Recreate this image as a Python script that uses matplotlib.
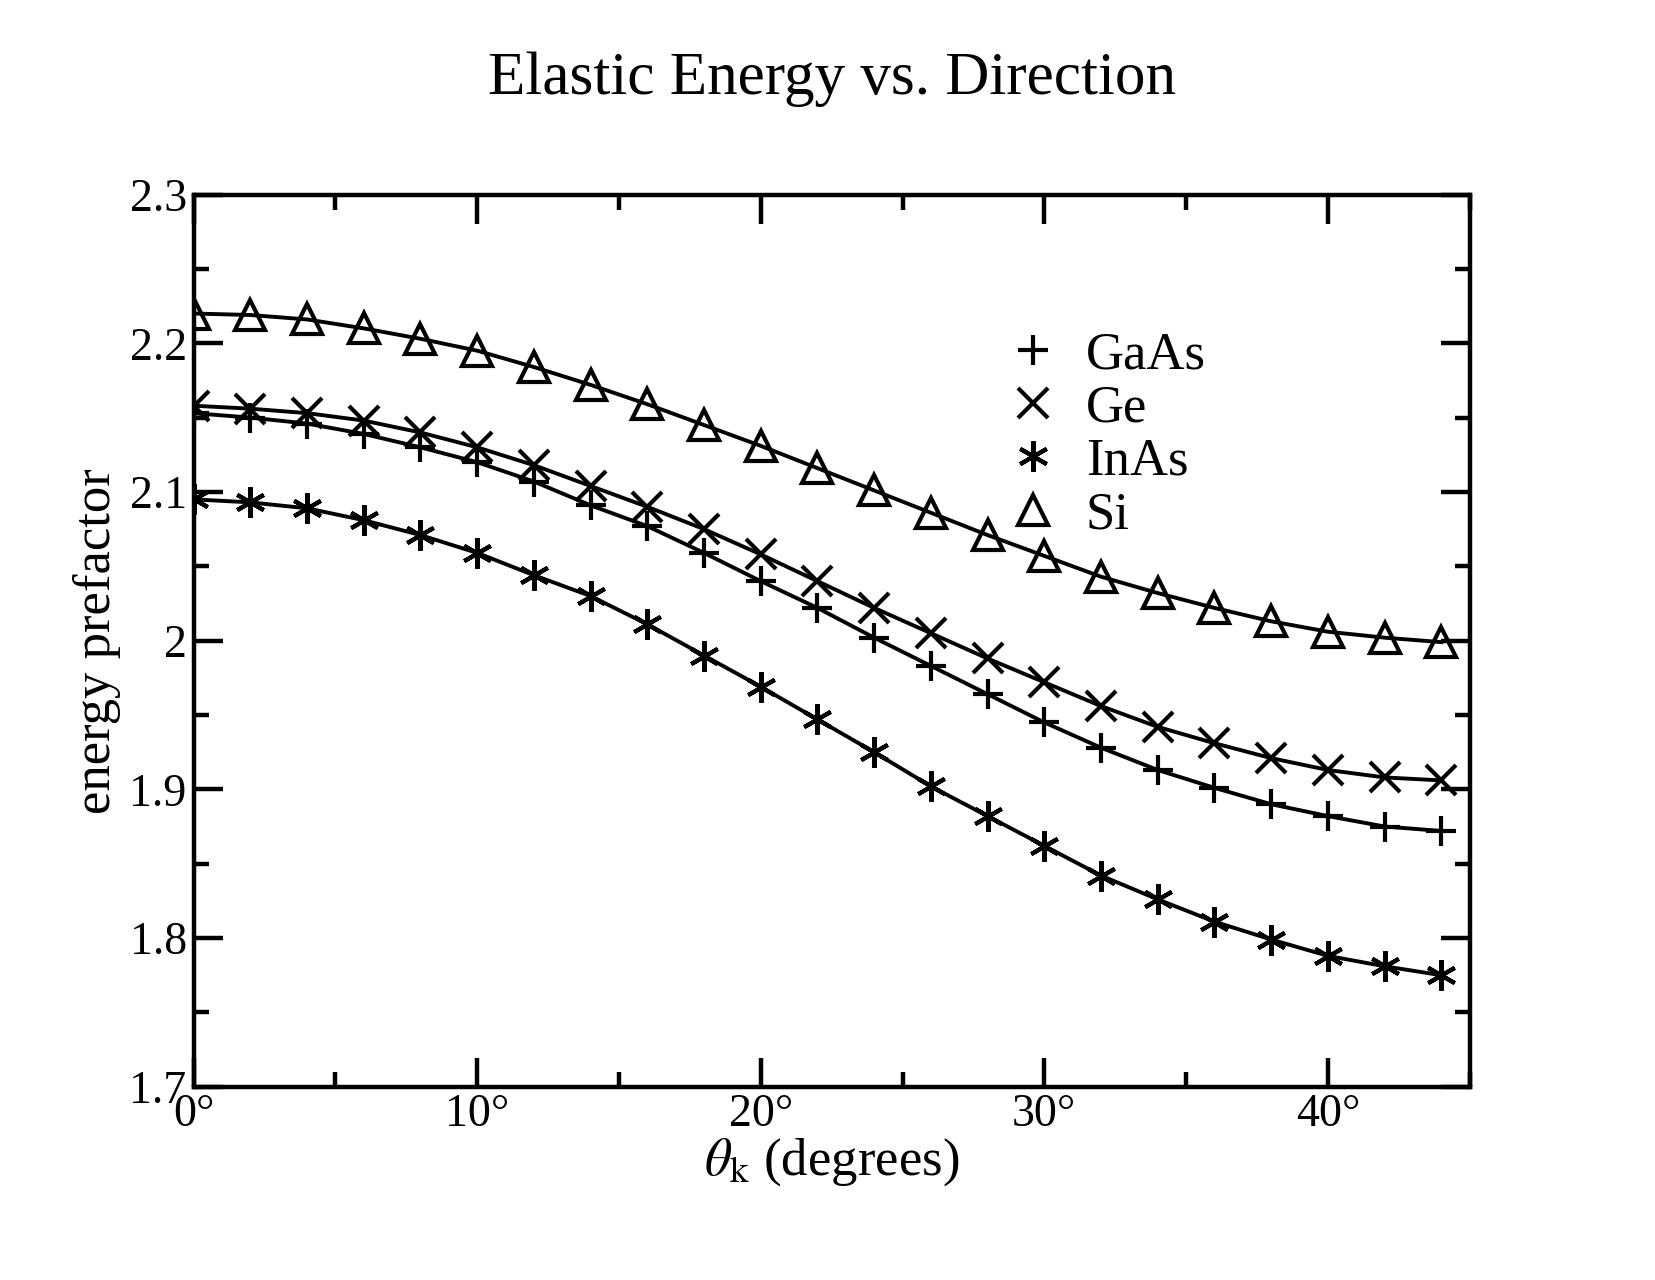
import matplotlib
matplotlib.use('Agg')
import matplotlib.pyplot as plt
from matplotlib.lines import Line2D
import numpy as np

plt.rcParams['font.family'] = ['Liberation Serif', 'DejaVu Serif']
plt.rcParams['mathtext.fontset'] = 'stix'

# 角度 (度)
theta = list(range(0, 46, 2))[:23]

si = [2.220, 2.219, 2.216, 2.210, 2.203, 2.195, 2.184, 2.172, 2.159, 2.145, 2.131, 2.116,
      2.101, 2.086, 2.071, 2.057, 2.043, 2.032, 2.022, 2.013, 2.006, 2.002, 1.999]
ge = [2.158, 2.156, 2.153, 2.148, 2.140, 2.130, 2.118, 2.104, 2.090, 2.075, 2.058, 2.040,
      2.022, 2.005, 1.988, 1.972, 1.956, 1.942, 1.931, 1.921, 1.913, 1.908, 1.906]
gaas = [2.153, 2.150, 2.146, 2.139, 2.130, 2.120, 2.107, 2.091, 2.077, 2.059, 2.040, 2.022,
        2.002, 1.983, 1.964, 1.945, 1.928, 1.913, 1.901, 1.890, 1.882, 1.875, 1.872]
inas = [2.095, 2.093, 2.089, 2.081, 2.071, 2.059, 2.044, 2.030, 2.011, 1.990, 1.969, 1.947,
        1.925, 1.902, 1.882, 1.862, 1.842, 1.826, 1.811, 1.799, 1.788, 1.781, 1.775]

series = [('GaAs', gaas, '+'), ('Ge', ge, 'x'), ('InAs', inas, (6, 2, 0)), ('Si', si, '^')]

fig = plt.figure(figsize=(16.55, 12.8), dpi=100)
ax = fig.add_axes([0.117, 0.151, 0.771, 0.697])

handles = []
for name, vals, mk in series:
    ax.plot(theta, vals, color='black', linewidth=2.8)
    ax.plot(theta, vals, linestyle='none', marker=mk, markersize=22,
            markerfacecolor='none', markeredgecolor='black', markeredgewidth=3)
    handles.append(Line2D([], [], linestyle='none', marker=mk, markersize=22,
                          markerfacecolor='none', markeredgecolor='black',
                          markeredgewidth=3, label=name))

ax.set_xlim(0, 45)
ax.set_ylim(1.7, 2.3)
ax.set_xticks([0, 10, 20, 30, 40])
ax.set_xticklabels(['0°', '10°', '20°', '30°', '40°'])
ax.set_xticks([5, 15, 25, 35, 45], minor=True)
ax.set_yticks([1.7, 1.8, 1.9, 2.0, 2.1, 2.2, 2.3])
ax.set_yticklabels(['1.7', '1.8', '1.9', '2', '2.1', '2.2', '2.3'])
ax.set_yticks(np.arange(1.75, 2.3, 0.1), minor=True)
ax.tick_params(which='both', direction='in', top=True, right=True, width=3.2, labelsize=33)
ax.tick_params(which='major', length=21, pad=5)
ax.tick_params(which='minor', length=11)
for s in ax.spines.values():
    s.set_linewidth(3.2)

ax.set_xlabel(r'$\theta_{\rm k}$ (degrees)', fontsize=38, labelpad=0)
ax.set_ylabel('energy prefactor', fontsize=38, labelpad=6)
fig.text(0.503, 0.938, 'Elastic Energy vs. Direction', ha='center', va='center', fontsize=44)

ax.legend(handles=handles, loc='upper left', bbox_to_anchor=(0.6, 0.9), frameon=False,
          fontsize=38, handletextpad=0.5, labelspacing=0.1, handlelength=1.0)

fig.savefig('out.png', dpi=100)
